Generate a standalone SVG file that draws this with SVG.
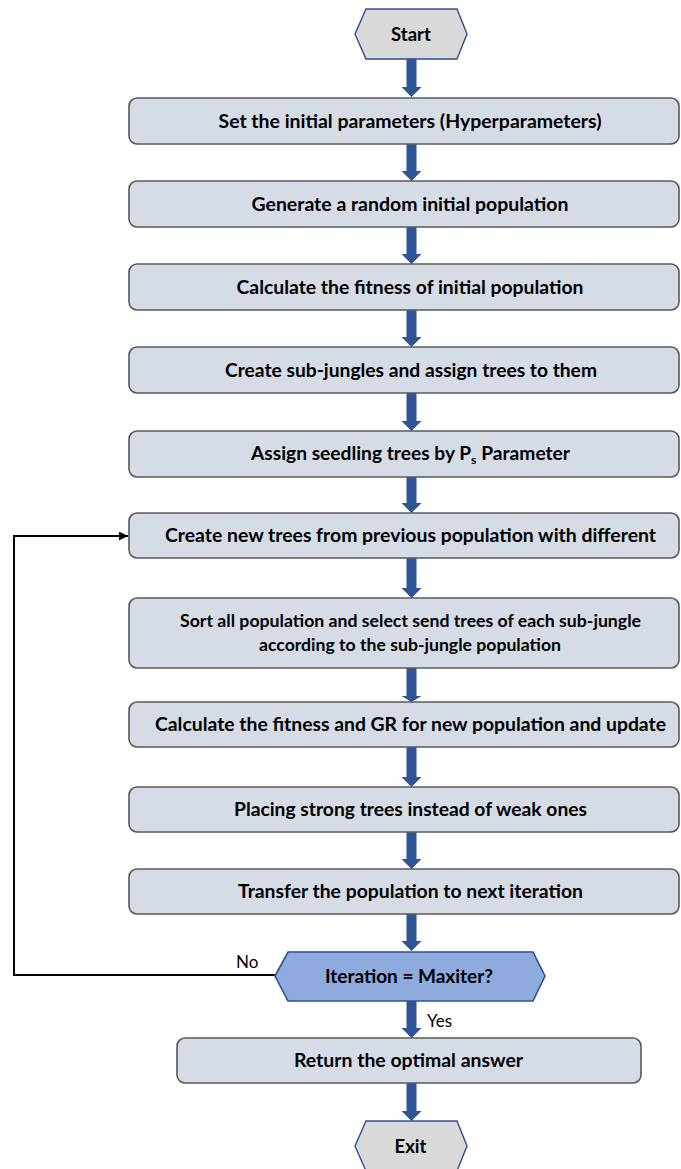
<svg xmlns="http://www.w3.org/2000/svg" width="681" height="1169" viewBox="0 0 681 1169">
<style>
.box{fill:#D6DCE5;stroke:#595959;stroke-width:1.6}
.term{fill:#D9D9D9;stroke:#2F4F8F;stroke-width:1.4}
.dec{fill:#8FAADC;stroke:#2F528F;stroke-width:1.6}
.t{font-family:Lato,"Liberation Sans",sans-serif;font-weight:bold;font-size:18.5px;fill:#000;text-anchor:middle}
.ts{font-size:16.5px}
.lab{font-family:Lato,"Liberation Sans",sans-serif;font-size:17px;fill:#000}
.arr{fill:#2F5597}
.loop{fill:none;stroke:#000;stroke-width:2}
</style>
<defs>
<marker id="ah" viewBox="0 0 10 10" refX="10" refY="5" markerWidth="4.5" markerHeight="4.5" orient="auto" markerUnits="strokeWidth">
<path d="M0,0 L10,5 L0,10 z" fill="#000"/>
</marker>
</defs>
<g id="connectors">
<path class="arr" d="M406.5,59 h10 v28 h5 l-10,10 l-10,-10 h5 z"/>
<path class="arr" d="M406.5,144 h10 v27 h5 l-10,10 l-10,-10 h5 z"/>
<path class="arr" d="M406.5,227 h10 v27 h5 l-10,10 l-10,-10 h5 z"/>
<path class="arr" d="M406.5,310 h10 v27 h5 l-10,10 l-10,-10 h5 z"/>
<path class="arr" d="M406.5,393 h10 v28 h5 l-10,10 l-10,-10 h5 z"/>
<path class="arr" d="M406.5,477 h10 v26 h5 l-10,10 l-10,-10 h5 z"/>
<path class="arr" d="M406.5,558 h10 v30 h5 l-10,10 l-10,-10 h5 z"/>
<path class="arr" d="M406.5,668 h10 v28 h5 l-10,6 l-10,-6 h5 z"/>
<path class="arr" d="M406.5,747 h10 v30 h5 l-10,10 l-10,-10 h5 z"/>
<path class="arr" d="M406.5,832 h10 v27 h5 l-10,10 l-10,-10 h5 z"/>
<path class="arr" d="M406.5,914 h10 v27 h5 l-10,10 l-10,-10 h5 z"/>
<path class="arr" d="M406.5,1001 h10 v27 h5 l-10,10 l-10,-10 h5 z"/>
<path class="arr" d="M406.5,1083 h10 v28 h5 l-10,10 l-10,-10 h5 z"/>
<path class="loop" d="M275,975 H14 V536 H128" marker-end="url(#ah)"/>
<text class="lab" x="236" y="968">No</text>
<text class="lab" x="427" y="1027">Yes</text>
</g>
<g id="start">
<polygon class="term" points="355,34 366,9 457,9 467,34 457,59 366,59"/>
<text class="t" x="411" y="41">Start</text>
</g>
<g id="n1">
<rect class="box" x="129" y="98" width="550" height="46" rx="8"/>
<text class="t" x="410" y="127.5" textLength="383" lengthAdjust="spacingAndGlyphs">Set the initial parameters (Hyperparameters)</text>
</g>
<g id="n2">
<rect class="box" x="129" y="181" width="550" height="46" rx="8"/>
<text class="t" x="410" y="210.5" textLength="317" lengthAdjust="spacingAndGlyphs">Generate a random initial population</text>
</g>
<g id="n3">
<rect class="box" x="129" y="264" width="550" height="46" rx="8"/>
<text class="t" x="410" y="293.5" textLength="347" lengthAdjust="spacingAndGlyphs">Calculate the fitness of initial population</text>
</g>
<g id="n4">
<rect class="box" x="129" y="347" width="550" height="46" rx="8"/>
<text class="t" x="411" y="376.5" textLength="372" lengthAdjust="spacingAndGlyphs">Create sub-jungles and assign trees to them</text>
</g>
<g id="n5">
<rect class="box" x="129" y="431" width="550" height="46" rx="8"/>
<text class="t" x="410.5" y="460" textLength="319" lengthAdjust="spacingAndGlyphs">Assign seedling trees by P<tspan font-size="12" dy="4">s</tspan><tspan dy="-4"> Parameter</tspan></text>
</g>
<g id="n6">
<rect class="box" x="129" y="513" width="550" height="45" rx="8"/>
<text class="t" x="410.5" y="542" textLength="491" lengthAdjust="spacingAndGlyphs">Create new trees from previous population with different</text>
</g>
<g id="n7">
<rect class="box" x="129" y="598" width="550" height="70" rx="8"/>
<text class="t ts" x="410.5" y="626.5" textLength="461" lengthAdjust="spacingAndGlyphs">Sort all population and select send trees of each sub-jungle</text>
<text class="t ts" x="410" y="650.5" textLength="302" lengthAdjust="spacingAndGlyphs">according to the sub-jungle population</text>
</g>
<g id="n8">
<rect class="box" x="129" y="702" width="550" height="45" rx="8"/>
<text class="t" x="410.5" y="730.5" textLength="511" lengthAdjust="spacingAndGlyphs">Calculate the fitness and GR for new population and update</text>
</g>
<g id="n9">
<rect class="box" x="129" y="787" width="550" height="45" rx="8"/>
<text class="t" x="410.5" y="815.5" textLength="353" lengthAdjust="spacingAndGlyphs">Placing strong trees instead of weak ones</text>
</g>
<g id="n10">
<rect class="box" x="129" y="869" width="550" height="45" rx="8"/>
<text class="t" x="410.5" y="897.5" textLength="345" lengthAdjust="spacingAndGlyphs">Transfer the population to next iteration</text>
</g>
<g id="decision">
<polygon class="dec" points="275,976 288,952 533,952 545,976 533,1001 288,1001"/>
<text class="t" x="409" y="982.5" textLength="168" lengthAdjust="spacingAndGlyphs">Iteration = Maxiter?</text>
</g>
<g id="n11">
<rect class="box" x="177" y="1038" width="464" height="45" rx="8"/>
<text class="t" x="408.5" y="1066.5" textLength="229" lengthAdjust="spacingAndGlyphs">Return the optimal answer</text>
</g>
<g id="exit">
<polygon class="term" points="355,1146 366,1121 457,1121 467,1146 457,1171 366,1171"/>
<text class="t" x="410.5" y="1152.5">Exit</text>
</g>
</svg>
